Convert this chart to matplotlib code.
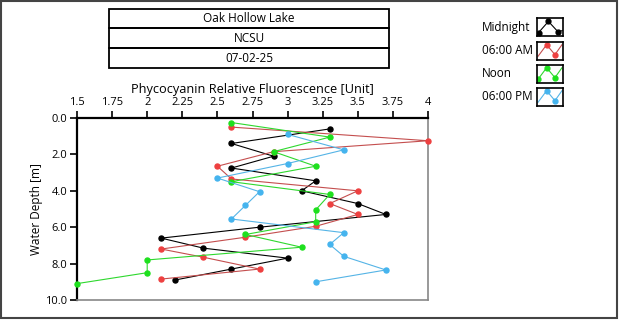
import numpy as np
import matplotlib
matplotlib.use("Agg")
import matplotlib.pyplot as plt
from matplotlib.patches import Rectangle

plt.rcParams['font.family'] = ['Open Sans', 'DejaVu Sans']
plt.rcParams['font.size'] = 8

# data: (fluorescence, depth)
mid_x = [3.3, 2.6, 2.9, 2.6, 3.2, 3.1, 3.5, 3.7, 2.8, 2.1, 2.4, 3.0, 2.6, 2.2]
mid_d = [0.6, 1.4, 2.1, 2.75, 3.45, 4.0, 4.7, 5.3, 6.0, 6.6, 7.15, 7.7, 8.3, 8.9]
am_x = [2.6, 4.0, 2.9, 2.5, 2.6, 3.5, 3.3, 3.5, 3.2, 2.7, 2.1, 2.4, 2.8, 2.1]
am_d = [0.5, 1.25, 1.85, 2.65, 3.35, 4.0, 4.7, 5.3, 5.95, 6.55, 7.2, 7.65, 8.3, 8.85]
noon_x = [2.6, 3.3, 2.9, 3.2, 2.6, 3.3, 3.2, 3.2, 2.7, 3.1, 2.0, 2.0, 1.5]
noon_d = [0.25, 1.05, 1.85, 2.65, 3.5, 4.2, 5.05, 5.7, 6.4, 7.1, 7.8, 8.5, 9.1]
pm_x = [3.0, 3.4, 3.0, 2.5, 2.8, 2.7, 2.6, 3.4, 3.3, 3.4, 3.7, 3.2]
pm_d = [0.9, 1.75, 2.5, 3.3, 4.05, 4.8, 5.55, 6.3, 6.95, 7.6, 8.35, 9.0]

series_names = ["Midnight", "06:00 AM", "Noon", "06:00 PM"]
line_cols = ["#000000", "#c44e4e", "#2ed82e", "#55b4e6"]
mark_cols = ["#000000", "#ee4040", "#1ee01e", "#45b4ee"]

title_lines = ["Oak Hollow Lake", "NCSU", "07-02-25"]
x_ticks = [1.5, 1.75, 2, 2.25, 2.5, 2.75, 3, 3.25, 3.5, 3.75, 4]
y_ticks = [0, 2, 4, 6, 8, 10]

W, H = 620, 324
fig = plt.figure(figsize=(W / 100, H / 100), dpi=100)

def fx(px):
    return px / W

def fy(py):
    return 1 - py / H

ax = fig.add_axes([fx(77), fy(300), fx(428) - fx(77), fy(118) - fy(300)])

data = [(mid_x, mid_d), (am_x, am_d), (noon_x, noon_d), (pm_x, pm_d)]
for (xs, ds), lc, mc in zip(data, line_cols, mark_cols):
    ax.plot(xs, ds, color=lc, lw=0.8, marker='o', ms=3.6,
            mfc=mc, mec=mc, clip_on=False, zorder=3)

ax.set_xlim(1.5, 4)
ax.set_ylim(10, 0)
ax.xaxis.tick_top()
ax.set_xticks(x_ticks)
ax.set_xticklabels([f"{v:g}" for v in x_ticks])
ax.set_yticks(y_ticks)
ax.set_yticklabels([f"{v:.1f}" for v in y_ticks])
ax.tick_params(axis='both', length=5, width=1.2, labelsize=8, pad=2)

ax.xaxis.set_label_position('top')
ax.set_xlabel("Phycocyanin Relative Fluorescence [Unit]", fontsize=9.2)
ax.xaxis.set_label_coords(0.5, 1.14)
ax.set_ylabel("Water Depth [m]", fontsize=8.5)
ax.yaxis.set_label_coords(-0.098, 0.5)

for s in ['top', 'left']:
    ax.spines[s].set_linewidth(1.6)
    ax.spines[s].set_color('black')
for s in ['right', 'bottom']:
    ax.spines[s].set_linewidth(1.2)
    ax.spines[s].set_color('#888888')

# stacked title boxes
rows = [(9, 28), (28, 48), (48, 68)]
for (t, b), txt in zip(rows, title_lines):
    fig.patches.append(Rectangle((fx(109), fy(b)), fx(389) - fx(109), fy(t) - fy(b),
                                 transform=fig.transFigure, fill=False,
                                 ec='black', lw=1.3))
    fig.text(fx(249), fy((t + b) / 2), txt, ha='center', va='center', fontsize=8.5)

# legend on the right
leg_y = [27, 50.5, 73.5, 96.5]
icon_shapes = [
    ([0.06, 0.44, 0.81, 0.97], [0.19, 0.81, 0.23, 0.3], [0, 1, 2]),
    ([0.04, 0.37, 0.69, 0.96], [0.18, 0.82, 0.27, 0.82], [1, 2]),
    ([0.04, 0.37, 0.69, 0.96], [0.18, 0.82, 0.27, 0.82], [0, 1, 2]),
    ([0.04, 0.37, 0.69, 0.96], [0.18, 0.82, 0.27, 0.82], [1, 2]),
]
for name, yc, lc, mc, (ix, iy, mk) in zip(series_names, leg_y, line_cols, mark_cols, icon_shapes):
    fig.text(fx(482), fy(yc), name, ha='left', va='center', fontsize=8.5)
    iax = fig.add_axes([fx(537), fy(yc + 9), fx(563) - fx(537), fy(yc - 9) - fy(yc + 9)])
    iax.plot(ix, iy, color=lc, lw=0.8)
    iax.plot([ix[i] for i in mk], [iy[i] for i in mk], 'o', ms=3.5, color=mc)
    iax.set_xlim(0, 1)
    iax.set_ylim(0, 1)
    iax.set_xticks([])
    iax.set_yticks([])
    for s in iax.spines.values():
        s.set_linewidth(1.2)

# outer frame
fig.patches.append(Rectangle((fx(1), fy(318)), fx(617) - fx(1), fy(1) - fy(318),
                             transform=fig.transFigure, fill=False, ec='#444444', lw=1.5))

fig.savefig("out.png", dpi=100)
